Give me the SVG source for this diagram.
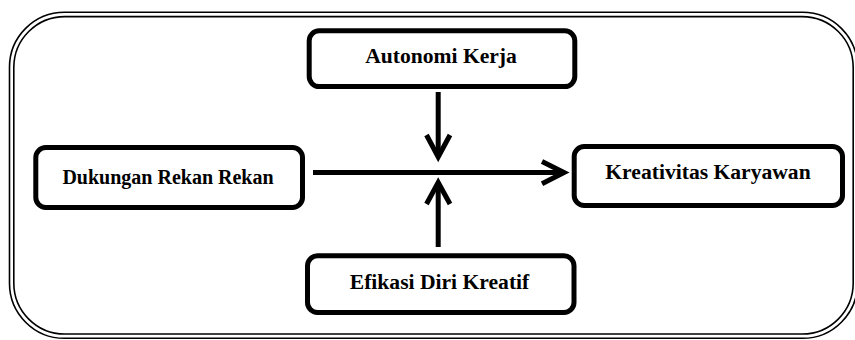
<svg xmlns="http://www.w3.org/2000/svg" width="855" height="340" viewBox="0 0 855 340">
<style>
.frame{fill:none;stroke:#000;stroke-width:1.6}
.node{fill:#fff;stroke:#000;stroke-width:5}
.lbl{font-family:"Liberation Serif","Times New Roman",serif;font-weight:bold;font-size:21.6px;fill:#000;text-anchor:middle}
.conn{fill:none;stroke:#000;stroke-width:5;stroke-linejoin:miter}
</style>
<rect width="855" height="340" fill="#fff"/>
<g id="frame">
<rect class="frame" x="9.5" y="12.3" width="848" height="326" rx="55" ry="55"/>
<rect class="frame" x="13.8" y="16.6" width="839.4" height="317.4" rx="51" ry="51"/>
</g>
<g id="connectors">
<line class="conn" x1="313" y1="172.6" x2="563" y2="172.6"/>
<polyline class="conn" points="542,161.5 564,172.6 542,183.7"/>
<line class="conn" x1="438.2" y1="92" x2="438.2" y2="156"/>
<polyline class="conn" points="426.5,135 438.2,157 450,135"/>
<line class="conn" x1="438.2" y1="185" x2="438.2" y2="247"/>
<polyline class="conn" points="426.5,204 438.2,182.5 450,204"/>
</g>
<g id="autonomi">
<rect class="node" x="309.2" y="30.8" width="265.6" height="55.8" rx="10"/>
<text class="lbl" x="441" y="63">Autonomi Kerja</text>
</g>
<g id="dukungan">
<rect class="node" x="35.8" y="147.5" width="266.7" height="60" rx="10"/>
<text class="lbl" x="168" y="184" style="font-size:20px">Dukungan Rekan Rekan</text>
</g>
<g id="kreativitas">
<rect class="node" x="574.2" y="146.5" width="268.3" height="59" rx="10"/>
<text class="lbl" x="708" y="179">Kreativitas Karyawan</text>
</g>
<g id="efikasi">
<rect class="node" x="307.5" y="255.8" width="266.5" height="56.7" rx="10"/>
<text class="lbl" x="439.5" y="289">Efikasi Diri Kreatif</text>
</g>
</svg>
